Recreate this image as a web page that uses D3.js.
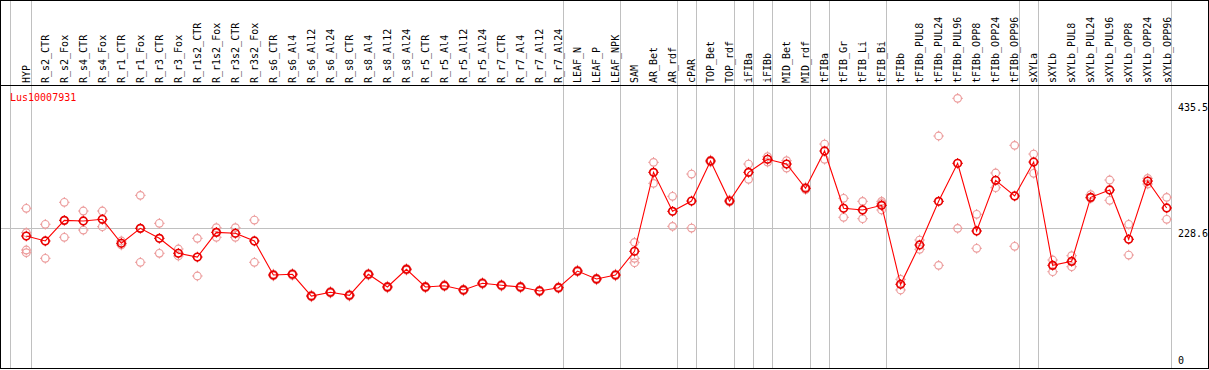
<!DOCTYPE html>
<html>
<head>
<meta charset="utf-8">
<script src="https://cdn.jsdelivr.net/npm/d3@7"></script>
<style>
  body { margin: 0; background: #fff; }
  text { font-family: "DejaVu Sans Mono", monospace; font-size: 10px; }
</style>
</head>
<body>
<div id="chart"></div>
<script>
var geneName = "Lus10007931";

var categories = ["HYP", "R_s2_CTR", "R_s2_Fox", "R_s4_CTR", "R_s4_Fox", "R_r1_CTR", "R_r1_Fox",
  "R_r3_CTR", "R_r3_Fox", "R_r1s2_CTR", "R_r1s2_Fox", "R_r3s2_CTR", "R_r3s2_Fox",
  "R_s6_CTR", "R_s6_Al4", "R_s6_Al12", "R_s6_Al24", "R_s8_CTR", "R_s8_Al4", "R_s8_Al12", "R_s8_Al24",
  "R_r5_CTR", "R_r5_Al4", "R_r5_Al12", "R_r5_Al24", "R_r7_CTR", "R_r7_Al4", "R_r7_Al12", "R_r7_Al24",
  "LEAF_N", "LEAF_P", "LEAF_NPK", "SAM", "AR_Bet", "AR_rdf", "cPAR", "TOP_Bet", "TOP_rdf",
  "iFIBa", "iFIBb", "MID_Bet", "MID_rdf", "tFIBa", "tFIB_Gr", "tFIB_Li", "tFIB_Bi",
  "tFIBb", "tFIBb_PUL8", "tFIBb_PUL24", "tFIBb_PUL96", "tFIBb_OPP8", "tFIBb_OPP24", "tFIBb_OPP96",
  "sXYLa", "sXYLb", "sXYLb_PUL8", "sXYLb_PUL24", "sXYLb_PUL96", "sXYLb_OPP8", "sXYLb_OPP24", "sXYLb_OPP96"];

// mean expression per sample
var means = [215.8, 207.6, 241.7, 240.6, 243.4, 203.8, 228.5, 212.0, 187.3, 181.1, 221.9, 220.3, 207.6,
  151.4, 152.6, 116.7, 122.9, 117.9, 152.6, 131.6, 160.8,
  131.6, 133.8, 126.7, 137.7, 134.4, 131.6, 125.0, 130.5,
  158.0, 144.8, 151.4, 190.6, 321.0, 256.6, 273.6, 339.7, 273.6,
  321.0, 342.5, 334.7, 294.6, 356.2, 261.6, 258.8, 266.5,
  136.1, 201.0, 273.1, 335.9, 224.1, 307.8, 281.9,
  338.0, 167.4, 174.0, 279.7, 291.8, 210.4, 306.6, 262.1];

// individual replicates per sample
var reps = [
  [261.6, 221.3, 192.7, 188.3], [235.2, 179.0], [271.5, 213.7], [257.1, 225.7], [257.1, 231.2],
  [207.6, 201.0], [283.0, 172.4], [236.8, 187.3], [194.4, 182.8], [212.0, 149.8],
  [229.5, 213.7], [229.5, 213.7], [242.2, 172.4],
  [153.0, 149.8], [154.1, 151.0], [118.2, 115.3], [124.4, 121.5], [119.5, 116.4],
  [154.0, 151.2], [133.1, 130.1], [162.3, 159.4], [133.0, 130.2], [135.3, 132.4],
  [128.1, 125.2], [139.1, 136.3], [135.9, 132.9], [133.1, 130.1], [126.4, 123.6],
  [131.9, 129.1], [159.5, 156.6], [146.3, 143.4], [152.9, 149.9],
  [205.4, 179.0, 171.7], [337.5, 302.8], [281.4, 231.8], [318.2, 229.0], [341.3, 338.0],
  [275.3, 272.0], [334.7, 309.5], [346.8, 338.0], [340.2, 328.1], [296.7, 292.6],
  [367.7, 342.5], [278.1, 246.7], [273.1, 244.4], [273.1, 269.8, 258.8],
  [144.3, 126.7], [209.2, 193.9], [381.0, 167.4], [443.2, 228.5], [251.7, 195.5],
  [319.9, 295.6], [365.6, 198.8], [351.2, 319.4], [176.2, 156.9], [183.3, 165.1],
  [284.0, 278.1], [308.3, 274.8], [235.2, 184.4], [311.1, 301.7], [279.7, 243.4]];

// index of the last sample in each group (separator drawn after it)
var groupEnds = [0, 28, 31, 34, 35, 37, 38, 39, 41, 42, 45, 52, 53, 60];

var yMax = 435.5;
var yTicks = [0, 228.6, 435.5];
var gridValue = 228.6;

var width = 1209, height = 370;
var headerY = 85.5, plotBottom = 368.5, plotRight = 1170.5;

var svg = d3.select("#chart").append("svg")
    .attr("width", width)
    .attr("height", height);

var x = d3.scalePoint()
    .domain(categories)
    .range([26.3, 1166.7]);

var y = d3.scaleLinear()
    .domain([0, yMax])
    .range([366.7, 103]);

// group separators + left edge
var sepX = [10.5].concat(groupEnds.map(function(i) { return Math.round(x(categories[i]) + 4.2) + 0.5; }));
svg.selectAll(".sep")
    .data(sepX)
  .enter().append("line")
    .attr("class", "sep")
    .attr("x1", function(d) { return d; })
    .attr("x2", function(d) { return d; })
    .attr("y1", 0)
    .attr("y2", plotBottom)
    .attr("stroke", "#c0c0c0")
    .attr("shape-rendering", "crispEdges");

// horizontal reference line
svg.append("line")
    .attr("x1", 1)
    .attr("x2", plotRight)
    .attr("y1", Math.round(y(gridValue)) + 0.5)
    .attr("y2", Math.round(y(gridValue)) + 0.5)
    .attr("stroke", "#c0c0c0")
    .attr("shape-rendering", "crispEdges");

// frame and header separator
svg.append("rect")
    .attr("x", 0.5).attr("y", 0.5)
    .attr("width", 1208).attr("height", 368)
    .attr("fill", "none")
    .attr("stroke", "#000")
    .attr("shape-rendering", "crispEdges");

svg.append("line")
    .attr("x1", 0).attr("x2", width)
    .attr("y1", headerY).attr("y2", headerY)
    .attr("stroke", "#000")
    .attr("shape-rendering", "crispEdges");

// sample labels
svg.selectAll(".lab")
    .data(categories)
  .enter().append("text")
    .attr("class", "lab")
    .attr("transform", function(d) { return "translate(" + (x(d) + 3.8) + ",83) rotate(-90)"; })
    .attr("fill", "#000")
    .text(function(d) { return d; });

// gene name
svg.append("text")
    .attr("x", 10)
    .attr("y", 101)
    .attr("fill", "#ff0000")
    .text(geneName);

// y axis on the right
var yAxis = d3.axisRight(y)
    .tickValues(yTicks)
    .tickSize(0)
    .tickPadding(0)
    .tickFormat(function(d) { return String(d); });

var ax = svg.append("g")
    .attr("transform", "translate(1178,0)")
    .call(yAxis);
ax.select(".domain").remove();
ax.attr("font-family", null).attr("font-size", null);
ax.selectAll("text")
    .attr("fill", "#000")
    .attr("dy", function(d) { return d === 0 ? "-0.34em" : "0.78em"; });

// marker: circle with four small spurs
function marker(g, cx, cy, color, sw) {
  g.append("circle")
      .attr("cx", cx).attr("cy", cy).attr("r", 3.8)
      .attr("fill", "none")
      .attr("stroke", color)
      .attr("stroke-width", sw);
  var spurs = [[0, -1], [0, 1], [-1, 0], [1, 0]];
  spurs.forEach(function(s) {
    g.append("line")
        .attr("x1", cx + s[0] * 3.8).attr("y1", cy + s[1] * 3.8)
        .attr("x2", cx + s[0] * 5.3).attr("y2", cy + s[1] * 5.3)
        .attr("stroke", color)
        .attr("stroke-width", 1);
  });
}

// replicates
var repG = svg.append("g");
reps.forEach(function(vals, i) {
  vals.forEach(function(v) {
    marker(repG, x(categories[i]), y(v), "#ec9c9c", 1.2);
  });
});

// mean line
var line = d3.line()
    .x(function(d, i) { return x(categories[i]); })
    .y(function(d) { return y(d); });

svg.append("path")
    .datum(means)
    .attr("fill", "none")
    .attr("stroke", "#ff0000")
    .attr("stroke-width", 1.1)
    .attr("d", line);

var meanG = svg.append("g");
means.forEach(function(v, i) {
  marker(meanG, x(categories[i]), y(v), "#e80000", 1.7);
});
</script>
</body>
</html>
